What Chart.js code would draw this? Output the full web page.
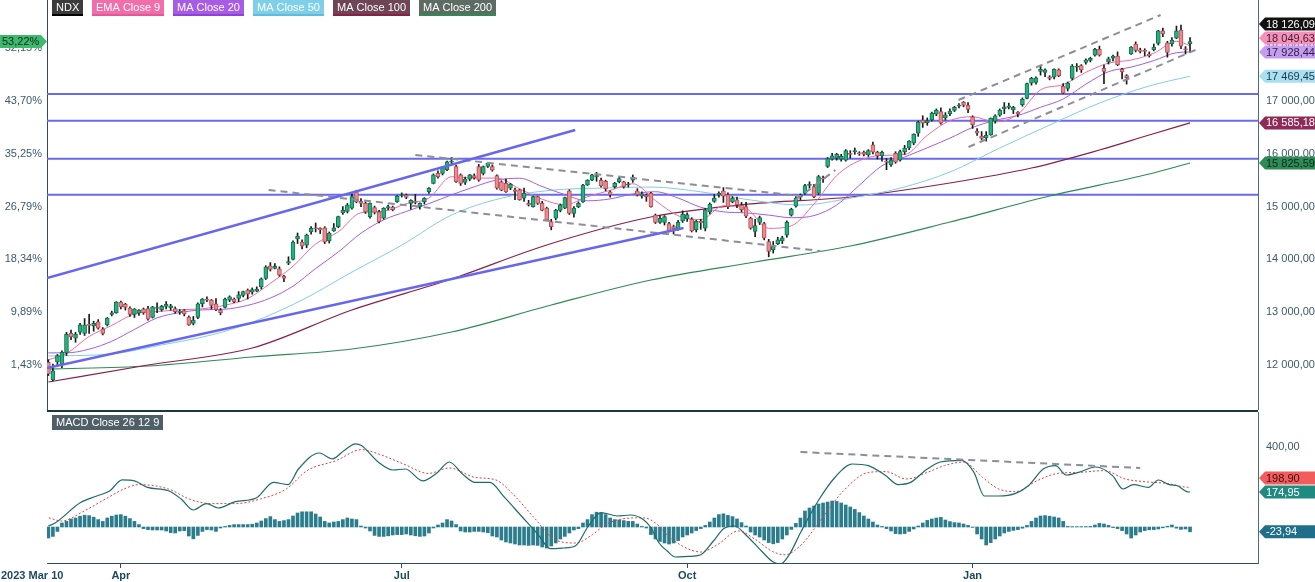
<!DOCTYPE html>
<html>
<head>
<meta charset="utf-8">
<script src="https://cdn.jsdelivr.net/npm/chart.js@4.4.0/dist/chart.umd.min.js"></script>
<style>
  html, body { margin: 0; padding: 0; background: #fff; }
  #wrap { position: relative; width: 1315px; height: 582px; overflow: hidden; }
  #main { position: absolute; left: 0; top: 0; }
  #macd { position: absolute; left: 0; top: 410px; }
</style>
</head>
<body>
<div id="wrap">
  <canvas id="main" width="1315" height="410"></canvas>
  <canvas id="macd" width="1315" height="172"></canvas>
</div>
<script>
// daily candles, trading day index 0 = 2023 Mar 10 ... 252 = 2024 Mar 12
// [open, high, low, close]
const candles = [
  // Mar
  [12050,12100,11800,11830],[11720,12020,11700,11890],[12060,12200,11980,12180],[12020,12270,11950,12240],[12230,12620,12180,12580],
  [12600,12660,12480,12530],[12510,12620,12430,12580],[12620,12790,12580,12760],[12600,12880,12560,12760],[12760,12960,12600,12750],
  [12740,12830,12640,12790],[12820,12860,12680,12700],[12680,12710,12570,12600],[12760,12900,12740,12890],[12960,13020,12930,12990],
  [12990,13200,12980,13190],
  // Apr
  [13190,13210,13060,13100],[13150,13170,13040,13090],[13080,13100,12920,12960],[12960,13070,12900,13060],
  [12980,13050,12940,13040],[13060,13080,12960,12990],[13070,13110,12850,12870],[12900,13110,12890,13100],[13070,13180,12990,13080],
  [13050,13130,13020,13110],[13110,13200,13060,13150],[13080,13150,13040,13120],[13070,13100,12980,13010],[13000,13050,12960,13020],
  [13030,13050,12930,12970],[12910,12930,12750,12760],[12790,12920,12760,12850],[12900,13180,12880,13160],[13160,13260,13100,13250],
  // May
  [13250,13290,13200,13230],[13230,13240,13060,13130],[13160,13260,13030,13050],[13040,13070,12950,12990],[13090,13270,13080,13250],
  [13230,13310,13200,13290],[13250,13270,13180,13200],[13260,13390,13200,13330],[13320,13400,13290,13390],[13420,13440,13250,13340],
  [13380,13460,13340,13430],[13400,13480,13390,13440],[13480,13650,13440,13630],[13640,13880,13620,13860],[13880,13940,13780,13810],
  [13830,13920,13820,13870],[13820,13860,13680,13700],[13680,13700,13580,13640],[13930,14050,13900,13960],[14000,14350,13990,14330],
  [14390,14500,14300,14440],[14330,14370,14200,14250],
  // Jun
  [14270,14480,14220,14460],[14520,14620,14480,14590],[14590,14690,14520,14580],
  [14590,14600,14490,14560],[14600,14620,14300,14330],[14350,14520,14310,14500],[14540,14680,14530,14600],[14620,14820,14600,14810],
  [14880,15000,14850,14930],[14910,15060,14880,15030],[14970,15250,14950,15190],[15280,15310,15070,15090],[15100,15150,15000,15060],
  [15060,15090,14870,14900],[14810,15070,14780,15060],[14980,15010,14860,14890],[14900,14930,14690,14715],[14780,14980,14760,14967],
  [14970,15030,14940,15000],[14990,15010,14920,14940],[15093,15210,15080,15201],
  // Jul
  [15210,15260,15180,15220],[15220,15240,15150,15176],
  [15060,15130,14950,15120],[15100,15230,15050,15080],[15000,15070,14950,15060],[15093,15170,15050,15157],[15283,15360,15250,15346],
  [15441,15620,15430,15600],[15631,15680,15540,15567],[15630,15760,15600,15740],[15700,15860,15680,15850],[15840,15930,15790,15860],
  [15760,15780,15460,15470],[15600,15620,15400,15440],[15460,15560,15420,15520],[15520,15610,15490,15600],[15590,15620,15520,15550],
  [15760,15800,15480,15500],[15630,15770,15600,15760],[15760,15830,15740,15820],
  // Aug
  [15760,15790,15670,15690],[15590,15600,15330,15350],
  [15470,15490,15300,15310],[15440,15520,15270,15280],[15350,15440,15320,15420],[15320,15350,15130,15290],[15320,15330,15120,15130],
  [15160,15350,15100,15250],[15060,15120,15010,15030],[15000,15200,14990,15190],[15190,15200,15040,15060],[15060,15100,14920,14930],
  [14970,14990,14740,14750],[14715,14760,14560,14620],[14780,14950,14750,14935],[14930,15050,14900,15030],[14970,15180,14960,15170],
  [15300,15320,14850,14870],[14870,15000,14800,14970],[15000,15090,14980,15060],[15090,15420,15080,15410],[15410,15510,15400,15500],
  [15500,15610,15490,15600],
  // Sep
  [15560,15650,15480,15590],[15500,15540,15370,15390],[15480,15500,15300,15340],[15280,15300,15180,15220],
  [15380,15460,15350,15440],[15470,15560,15450,15530],[15470,15480,15350,15380],[15410,15460,15370,15420],[15500,15600,15460,15560],
  [15300,15340,15200,15220],[15200,15280,15160,15240],[15220,15240,15100,15190],[15250,15270,14990,15000],[14840,14860,14680,14700],
  [14700,14830,14680,14780],[14700,14830,14650,14810],[14680,14700,14520,14540],[14620,14650,14480,14580],[14570,14740,14550,14700],
  [14730,14920,14700,14860],
  // Oct
  [14770,14880,14720,14850],[14760,14790,14520,14540],[14560,14740,14520,14720],[14720,14760,14570,14690],
  [14590,14970,14540,14940],[14900,15070,14860,15050],[15100,15230,15080,15160],[15220,15280,15180,15250],[15300,15360,15080,15200],
  [15230,15260,14960,15000],[15090,15190,15070,15160],[15130,15180,14980,15030],[15030,15080,14900,14940],[15000,15080,14790,14820],
  [14780,14800,14570,14590],[14530,14760,14430,14640],[14700,14820,14660,14790],[14680,14700,14370,14400],[14340,14380,14050,14150],
  [14180,14340,14120,14250],[14300,14420,14280,14370],[14350,14440,14300,14410],
  // Nov
  [14460,14730,14420,14700],[14840,14970,14820,14950],
  [15010,15190,14990,15160],[15180,15240,15130,15220],[15250,15420,15230,15400],[15400,15470,15350,15420],[15380,15420,15170,15190],
  [15250,15590,15230,15570],[15540,15580,15460,15520],[15760,15930,15740,15910],[15900,16010,15880,15960],[15920,16010,15880,15990],
  [15900,15990,15860,15950],[15880,16080,15860,16060],[16010,16060,15920,15990],[16040,16110,15990,16050],[16010,16040,15970,16000],
  [16030,16050,15960,15990],[15980,16080,15950,16060],[16170,16220,16000,16030],[16030,16050,15900,15960],
  // Dec
  [15960,16050,15860,16030],
  [15850,15910,15700,15840],[15790,15930,15760,15880],[16010,16040,15820,15840],[15880,16070,15860,16040],[16040,16160,15990,16110],
  [16110,16250,16080,16240],[16200,16380,16170,16370],[16390,16620,16330,16600],[16640,16720,16500,16580],[16590,16680,16540,16630],
  [16640,16790,16620,16770],[16750,16850,16720,16830],[16800,16870,16560,16580],[16680,16780,16640,16740],[16760,16850,16720,16810],
  [16820,16900,16800,16880],[16900,16950,16870,16920],[16975,16990,16890,16920],[16920,16970,16780,16840],
  // Jan
  [16700,16720,16480,16550],
  [16430,16480,16350,16390],[16330,16420,16270,16290],[16300,16420,16240,16350],[16360,16680,16350,16670],[16620,16740,16580,16720],
  [16730,16850,16710,16830],[16850,16970,16760,16890],[16880,16960,16850,16910],[16830,16900,16760,16880],[16790,16800,16700,16750],
  [16930,17060,16900,17030],[17050,17340,17040,17330],[17340,17450,17300,17430],[17350,17460,17320,17440],[17560,17670,17490,17600],
  [17540,17610,17460,17590],[17460,17480,17400,17430],[17450,17610,17420,17600],[17590,17610,17460,17480],[17280,17330,17140,17150],
  // Feb
  [17240,17360,17190,17340],[17430,17690,17400,17660],[17640,17710,17560,17640],[17670,17690,17540,17590],[17730,17800,17700,17780],
  [17770,17830,17740,17810],[17870,18000,17850,17980],[17980,18040,17850,17870],[17620,17680,17330,17560],[17740,17830,17700,17800],
  [17810,17870,17760,17850],[17850,17930,17670,17690],[17600,17620,17420,17550],[17480,17500,17320,17440],[17890,18030,17880,18020],
  [18080,18120,17930,17960],[17970,18000,17910,17940],[17950,17990,17860,17940],[17890,17930,17830,17860],[17970,18080,17950,18020],
  // Mar
  [18090,18340,18060,18330],[18330,18380,18220,18270],[18100,18130,17830,17920],[18080,18200,18040,18150],[18190,18420,18180,18330],
  [18345,18440,17990,18040],[17990,18030,17890,17970],[18080,18200,17930,18126.09]
];

// moving averages: [day index, value]
const ema9 = [[0,12100],[4,12218],[9,12541],[14,12750],[19,12968],[24,13013],[29,13046],[34,13065],[39,13133],[44,13258],
  [49,13547],[54,13870],[59,14292],[64,14523],[69,14884],[74,14911],[79,15057],[84,15161],[89,15566],[94,15539],
  [99,15541],[104,15338],[109,15140],[114,15034],[119,15188],[124,15308],[129,15433],[134,15114],[139,14827],[144,14754],
  [149,15016],[154,14964],[159,14588],[164,14637],[169,15050],[174,15587],[179,15870],[184,15970],[189,15985],[194,16350],
  [199,16629],[204,16703],[209,16604],[214,16750],[219,17211],[224,17311],[229,17542],[234,17718],[239,17776],[244,17905],
  [249,18130],[252,18049.63]];
const ma20 = [[0,12230],[4,12230],[9,12300],[14,12450],[19,12674],[24,12892],[29,12993],[34,13044],[39,13057],[44,13130],
  [49,13268],[54,13494],[59,13827],[64,14140],[69,14496],[74,14748],[79,14908],[84,15057],[89,15222],[94,15375],
  [99,15504],[104,15537],[109,15380],[114,15226],[119,15110],[124,15146],[129,15239],[134,15282],[139,15162],[144,14988],
  [149,14901],[154,14881],[159,14839],[164,14790],[169,14830],[174,15030],[179,15404],[184,15773],[189,15939],[194,16113],
  [199,16297],[204,16499],[209,16634],[214,16726],[219,16881],[224,17038],[229,17318],[234,17556],[239,17642],[244,17765],
  [249,17915],[252,17928.44]];
const ma50 = [[0,12170],[14,12210],[25,12380],[36,12570],[45,12810],[56,13230],[67,13760],[78,14270],[89,14840],[100,15160],
  [111,15310],[122,15350],[133,15370],[144,15280],[155,15125],[166,15030],[177,15160],[188,15350],[199,15655],[210,16110],
  [221,16545],[232,16960],[243,17285],[252,17469.45]];
const ma100 = [[0,11678],[22,12000],[45,12322],[67,13042],[89,13629],[110,14273],[133,14803],[155,15050],[177,15182],
  [199,15447],[217,15731],[232,16072],[243,16356],[252,16585.18]];
const ma200 = [[0,11924],[22,11981],[45,12152],[67,12303],[89,12625],[111,13136],[133,13610],[156,13951],[177,14254],
  [199,14708],[221,15201],[243,15618],[252,15825.59]];

// drawn levels and trend lines (day index, price)
const levels = [17133, 16627, 15907, 15225];
const blueTrends = [[-0.3,13648,116.3,16451],[-0.3,11943,140.2,14595]];
const greyTrends = [[81,15977,166,15201],[48.6,15315,170.4,14159],[164.9,15125,173.7,15693],
  [200.9,17019,245.5,18629],[203.1,16129,253.2,17966]];

// MACD panel
const macdLine = [[0,5],[1.5,20],[7.1,122],[10.7,155],[13.5,180],[16.3,236],[19,231],[21.9,198],[26.5,181],[29.3,140],
  [32,85],[34.9,117],[37.5,95],[41.3,127],[45.9,145],[49.7,223],[52.9,212],[55.2,290],[59.8,370],[62.7,341],
  [65.3,383],[67.8,416],[69.1,408],[72.8,325],[76.1,285],[78.8,290],[82.6,231],[85.9,273],[88.5,325],[91.4,265],
  [94.2,223],[97.4,223],[100.7,148],[104.4,55],[108.1,-38],[110.8,-108],[113.7,-105],[116.3,-95],[119.2,5],[122,72],
  [125.6,55],[128.5,60],[131.3,38],[132.9,0],[134.8,-80],[136.6,-120],[138.4,-150],[141.3,-147],[143.9,-140],[146.8,-70],
  [149.1,-8],[151.4,5],[154.2,-45],[157.4,-120],[159.8,-172],[161.6,-185],[163.5,-140],[166.2,-20],[169.9,130],[173.7,250],
  [177.4,315],[181,307],[184.8,257],[187.6,212],[190.3,223],[194,290],[196.9,325],[201.5,333],[204.3,273],[206.6,155],
  [209.8,155],[213.5,168],[216.3,206],[219.6,290],[222.3,307],[224.7,260],[227.4,273],[231.1,300],[234.9,257],[237.2,190],
  [239.5,212],[242.8,198],[245,235],[247.4,212],[249.2,206],[251.4,176],[252,174.95]];
const signalLine = [[0.1,46],[2.9,30],[7.9,80],[12.6,140],[17.2,195],[20,212],[26.5,190],[31.1,140],[35.8,117],[41.3,117],
  [46.8,140],[52.5,190],[57.1,282],[63.6,333],[69.1,387],[72.8,366],[78.4,315],[83.9,268],[88.5,295],[94.2,248],
  [98.8,235],[102.5,165],[107.2,47],[111.8,-63],[116.4,-80],[120.1,-38],[123,12],[127.5,43],[131.3,46],[134.8,5],
  [135.7,-20],[139.4,-88],[144,-125],[147.7,-88],[152.3,-20],[156.1,-63],[159.8,-122],[162.6,-139],[166.2,-88],[170.9,47],
  [175.5,181],[181.1,273],[184.8,277],[189.4,240],[194,273],[197.8,307],[202,325],[206.2,248],[209.8,190],[213.5,177],
  [218.2,231],[222.8,268],[227.5,273],[233,282],[237.7,240],[242.3,226],[246.9,218],[251.4,199],[252,198.9]];
const histogram = [
  -55,-47,-22,20,28,40,45,54,59,57, 49,37,28,45,54,60,62,54,42,28, 12,-8,-13,-15,-15,-15,-20,-28,-30,-20,
  -18,-45,-59,-42,-22,-13,-15,-22,-5,3, 8,12,12,12,12,14,20,30,42,52, 37,28,32,37,55,70,76,76,76,65,
  50,28,20,25,28,37,45,40,37,5, -5,-20,-42,-47,-47,-44,-40,-38,-38,-35, -40,-44,-47,-45,-30,-5,10,20,37,30,
  12,-20,-25,-25,-22,-22,-25,-28,-45,-50, -65,-75,-80,-85,-90,-90,-92,-90,-92,-100, -105,-95,-80,-60,-47,-30,-15,-8,20,37,
  62,74,70,62,45,37,35,32,28,28, 15,3,-5,-38,-60,-72,-80,-85,-80,-68, -50,-40,-30,-18,-8,8,25,45,62,66,
  58,52,40,22,5,-25,-40,-50,-65,-78, -84,-78,-60,-40,-12,18,45,80,95,105, 115,120,125,130,128,120,110,100,88,72,
  55,40,25,10,3,-8,-20,-33,-35,-33, -22,-10,5,20,33,40,45,48,35,27, 22,20,15,8,-2,-35,-60,-90,-78,-60,
  -45,-30,-22,-17,-13,-6,8,28,45,55, 57,54,50,45,28,3,2,2,2,2, 3,10,18,15,8,-3,-8,-18,-35,-55,
  -40,-25,-18,-14,-13,-10,-4,4,10,-6, -12,-10,-23.94];
const macdTrend = [166, 375, 241, 295];

// axes
const priceTicks = [12000, 13000, 14000, 15000, 16000, 17000, 18000];
const pctLabels = ['1,43%', '9,89%', '18,34%', '26,79%', '35,25%', '43,70%', '52,15%'];
const monthTicks = [16, 78, 141, 204];
const monthLabels = ['Apr', 'Jul', 'Oct', 'Jan'];
const firstDateLabel = '2023 Mar 10';

const legendNames = ['NDX', 'EMA Close 9', 'MA Close 20', 'MA Close 50', 'MA Close 100', 'MA Close 200'];
const lastValues = [18126.09, 18049.63, 17928.44, 17469.45, 16585.18, 15825.59];
const lastPct = '53,22%';
const macdLast = [198.90, 174.95, -23.94];

// ---------- styling ----------
const FONT = '"Liberation Sans", Arial, sans-serif';
const AXIS_TXT = '#3c5a6c';
const AXIS_LINE = '#2d4e5e';
const X_MIN = -0.3, X_MAX = 267;
const legendBg = ['#3c3c3c', '#f26eaa', '#a75ce6', '#80cfe8', '#6e4555', '#5c6c62'];
const legendLine = ['#000000', '#e4589a', '#9042d8', '#5fbcdc', '#8a1f48', '#2f8a55'];
const tagBg = ['#111111', '#f590bb', '#c59cf2', '#a8dff1', '#8e2a55', '#2e8b57'];
const tagFg = ['#ffffff', '#3a1f2a', '#2a1f3a', '#1d3a48', '#ffffff', '#0d2a18'];
const macdTagBg = ['#f25c5c', '#1f8a80', '#1f6f8a'];

const pts = arr => arr.map(p => ({ x: p[0], y: p[1] }));
const seg = s => [{ x: s[0], y: s[1] }, { x: s[2], y: s[3] }];

function fmtNum(v) {
  const neg = v < 0;
  const parts = Math.abs(v).toFixed(2).split('.');
  return (neg ? '-' : '') + parts[0].replace(/\B(?=(\d{3})+(?!\d))/g, ' ') + ',' + parts[1];
}

function tagPath(ctx, tipX, y, w, h, pointLeft) {
  ctx.beginPath();
  if (pointLeft) {
    ctx.moveTo(tipX, y);
    ctx.lineTo(tipX + 6, y - h / 2);
    ctx.lineTo(tipX + w, y - h / 2);
    ctx.lineTo(tipX + w, y + h / 2);
    ctx.lineTo(tipX + 6, y + h / 2);
  } else {
    ctx.moveTo(tipX, y);
    ctx.lineTo(tipX - 6, y - h / 2);
    ctx.lineTo(tipX - w, y - h / 2);
    ctx.lineTo(tipX - w, y + h / 2);
    ctx.lineTo(tipX - 6, y + h / 2);
  }
  ctx.closePath();
}

function stackY(ys, gap) {
  const out = ys.slice();
  for (let i = out.length - 2; i >= 0; i--) out[i] = Math.min(out[i], out[i + 1] - gap);
  return out;
}

// stop Chart.js from reserving room for half tick labels at the ends
function noEdgePad(s) {
  s.paddingTop = 0; s.paddingBottom = 0; s.paddingLeft = 0; s.paddingRight = 0;
}

// ---------- main chart ----------
const lineDs = (data, color, width, order) => ({
  type: 'line', data: pts(data), borderColor: color, borderWidth: width,
  pointRadius: 0, fill: false, cubicInterpolationMode: 'monotone', order
});

const datasets = [];
blueTrends.forEach(t => datasets.push({ type: 'line', data: seg(t), borderColor: '#6767ee', borderWidth: 2.5, pointRadius: 0, order: 1 }));
greyTrends.forEach(t => datasets.push({ type: 'line', data: seg(t), borderColor: '#8d8d9c', borderWidth: 2, borderDash: [7, 5], pointRadius: 0, order: 1 }));
datasets.push({
  type: 'bar', data: candles.map((c, i) => ({ x: i, y: [c[0], c[3]] })), grouped: false,
  backgroundColor: candles.map(c => c[3] >= c[0] ? '#26b27f' : '#ec8b8e'),
  borderColor: candles.map(c => c[3] >= c[0] ? '#16704d' : '#b54e58'),
  borderWidth: 1, borderSkipped: false, barThickness: 4, minBarLength: 1, order: 2
});
datasets.push({
  type: 'bar', data: candles.map((c, i) => ({ x: i, y: [c[2], c[1]] })), grouped: false,
  backgroundColor: '#1a1a1a', barThickness: 1, order: 3
});
datasets.push(lineDs(ema9, '#ee6aa5', 1, 4));
datasets.push(lineDs(ma20, '#a45ce6', 1, 4));
datasets.push(lineDs(ma50, '#82cde8', 1, 4));
datasets.push(lineDs(ma100, '#8a1f48', 1.2, 4));
datasets.push(lineDs(ma200, '#2f8a55', 1.2, 4));
levels.forEach(v => datasets.push({ type: 'line', data: [{ x: X_MIN, y: v }, { x: X_MAX, y: v }], borderColor: '#6a6aea', borderWidth: 2, pointRadius: 0, order: 5 }));

const mainOverlay = {
  id: 'mainOverlay',
  afterDraw(chart) {
    const ctx = chart.ctx;
    const ys = chart.scales.y;
    ctx.save();
    ctx.font = '11px ' + FONT;
    ctx.textBaseline = 'middle';
    // legend chips
    let x = 52;
    legendNames.forEach((name, i) => {
      const w = Math.round(ctx.measureText(name).width) + 8;
      ctx.fillStyle = legendBg[i];
      ctx.fillRect(x, 0, w, 16);
      ctx.fillStyle = legendLine[i];
      ctx.fillRect(x, 14, w, 2);
      ctx.fillStyle = '#ffffff';
      ctx.textAlign = 'left';
      ctx.fillText(name, x + 4, 8);
      x += w + 9;
    });
    // right value tags
    const tagY = stackY(lastValues.map(v => ys.getPixelForValue(v)), 14);
    lastValues.forEach((v, i) => {
      tagPath(ctx, 1259, tagY[i], 60, 13, true);
      ctx.fillStyle = tagBg[i];
      ctx.fill();
      ctx.fillStyle = tagFg[i];
      ctx.textAlign = 'left';
      ctx.fillText(fmtNum(v), 1266, tagY[i] + 0.5);
    });
    // left percent tag
    const py = ys.getPixelForValue(lastValues[0]);
    tagPath(ctx, 47, py, 47, 13, false);
    ctx.fillStyle = '#3dba6e';
    ctx.fill();
    ctx.fillStyle = '#0d2a18';
    ctx.textAlign = 'left';
    ctx.fillText(lastPct, 2, py + 0.5);
    ctx.restore();
  }
};

new Chart(document.getElementById('main'), {
  type: 'bar',
  data: { datasets },
  options: {
    responsive: false,
    animation: false,
    layout: { padding: 0 },
    plugins: { legend: { display: false }, tooltip: { enabled: false } },
    scales: {
      x: { type: 'linear', min: X_MIN, max: X_MAX, offset: false, display: false },
      yl: {
        type: 'linear', position: 'left', min: 11148, max: 18913,
        afterFit: s => { s.width = 47; noEdgePad(s); },
        afterBuildTicks: s => { s.ticks = priceTicks.map(v => ({ value: v })); },
        ticks: { callback: v => pctLabels[priceTicks.indexOf(v)], color: AXIS_TXT, font: { family: FONT, size: 11 }, padding: 5 },
        grid: { display: false, drawTicks: false },
        border: { display: true, color: AXIS_LINE }
      },
      y: {
        type: 'linear', position: 'right', min: 11148, max: 18913,
        afterFit: s => { s.width = 57; noEdgePad(s); },
        afterBuildTicks: s => { s.ticks = priceTicks.map(v => ({ value: v })); },
        ticks: { callback: v => fmtNum(v), color: AXIS_TXT, font: { family: FONT, size: 11 }, padding: 8 },
        grid: { display: false, drawTicks: false },
        border: { display: true, color: '#4d6d7c' }
      }
    }
  },
  plugins: [mainOverlay]
});

// ---------- MACD chart ----------
const macdOverlay = {
  id: 'macdOverlay',
  afterDraw(chart) {
    const ctx = chart.ctx;
    const ys = chart.scales.y;
    const area = chart.chartArea;
    ctx.save();
    // panel separator
    ctx.fillStyle = '#1b3744';
    ctx.fillRect(area.left, 0, area.right - area.left, 2);
    // title chip
    ctx.font = '11px ' + FONT;
    ctx.textBaseline = 'middle';
    const title = 'MACD Close 26 12 9';
    const tw = Math.round(ctx.measureText(title).width) + 8;
    ctx.fillStyle = '#4e5f67';
    ctx.fillRect(52, 5, tw, 15);
    ctx.fillStyle = '#ffffff';
    ctx.textAlign = 'left';
    ctx.fillText(title, 56, 13);
    // first date label
    ctx.font = 'bold 11px ' + FONT;
    ctx.fillStyle = '#1d4a5e';
    ctx.fillText(firstDateLabel, 1, 166);
    // value tags
    ctx.font = '11px ' + FONT;
    const tagY = stackY(macdLast.map(v => ys.getPixelForValue(v)), 14);
    macdLast.forEach((v, i) => {
      tagPath(ctx, 1259, tagY[i], 60, 13, true);
      ctx.fillStyle = macdTagBg[i];
      ctx.fill();
      ctx.fillStyle = i === 0 ? '#3a0f0f' : '#ffffff';
      ctx.fillText(fmtNum(v), 1266, tagY[i] + 0.5);
    });
    ctx.restore();
  }
};

new Chart(document.getElementById('macd'), {
  type: 'bar',
  data: {
    datasets: [
      { type: 'line', data: seg(macdTrend), borderColor: '#8d8d9c', borderWidth: 2, borderDash: [7, 5], pointRadius: 0, order: 1 },
      { type: 'line', data: pts(macdLine), borderColor: '#1e6b6b', borderWidth: 1.2, pointRadius: 0, cubicInterpolationMode: 'monotone', order: 2 },
      { type: 'line', data: pts(signalLine), borderColor: '#e23d3d', borderWidth: 1, borderDash: [2, 2], pointRadius: 0, cubicInterpolationMode: 'monotone', order: 3 },
      { type: 'bar', data: histogram.map((v, i) => ({ x: i, y: v })), backgroundColor: '#2b7d8e', barThickness: 3, grouped: false, order: 4 }
    ]
  },
  options: {
    responsive: false,
    animation: false,
    layout: { padding: { left: 47, top: 2 } },
    plugins: { legend: { display: false }, tooltip: { enabled: false } },
    scales: {
      x: {
        type: 'linear', min: X_MIN, max: X_MAX, offset: false,
        afterFit: s => { s.height = 19; noEdgePad(s); },
        afterBuildTicks: s => { s.ticks = monthTicks.map(v => ({ value: v })); },
        ticks: { autoSkip: false, maxRotation: 0, callback: v => monthLabels[monthTicks.indexOf(v)], color: '#1d4a5e', font: { family: FONT, size: 11, weight: 'bold' }, padding: 1 },
        grid: { drawOnChartArea: false, drawTicks: true, tickLength: 5, color: AXIS_LINE, offset: false },
        border: { display: true, color: AXIS_LINE }
      },
      y: {
        type: 'linear', position: 'right', min: -180, max: 575,
        afterFit: s => { s.width = 57; noEdgePad(s); },
        afterBuildTicks: s => { s.ticks = [{ value: 400 }]; },
        ticks: { callback: v => fmtNum(v), color: AXIS_TXT, font: { family: FONT, size: 11 }, padding: 8 },
        grid: { display: false, drawTicks: false },
        border: { display: true, color: '#4d6d7c' }
      }
    }
  },
  plugins: [macdOverlay]
});
</script>
</body>
</html>
